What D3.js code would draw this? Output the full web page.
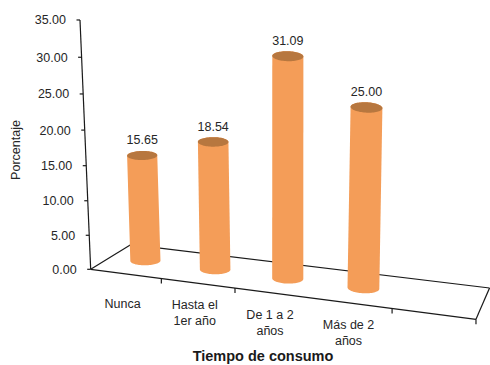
<!DOCTYPE html>
<html>
<head>
<meta charset="utf-8">
<script src="https://cdn.jsdelivr.net/npm/d3@7"></script>
<style>
  html, body { margin: 0; padding: 0; background: #fff; }
  svg { display: block; font-family: "Liberation Sans", Arial, sans-serif; }
</style>
</head>
<body>
<svg id="chart" width="490" height="365"></svg>
<script>
// ---- data ----
const categories = [["Nunca"], ["Hasta el", "1er año"], ["De 1 a 2", "años"], ["Más de 2", "años"]];
const values = [15.65, 18.54, 31.09, 25.00];
const yTicks = [0, 5, 10, 15, 20, 25, 30, 35];
const floorTicks = [1, 2, 4, 5];
const yTitle = "Porcentaje";
const xTitle = "Tiempo de consumo";

// ---- scales ----
const yScale = d3.scaleLinear().domain([0, 35]).range([0, 1]);           // height in world units
const xBand = d3.scaleBand().domain(d3.range(categories.length)).range([0, 4]);
const floorWidth = 5;      // floor runs one slot past the last category
const barDepth = 0.5;      // bars stand halfway back on the floor

// perspective camera: world (u along categories, h height, v depth) -> screen
const M = [
  [67.36, -14.854, 50.58, 90.7],
  [3.50, -250.36, -5.5, 269.3],
  [-0.02037, -0.05194, 0.0785, 1]
];
function project(u, h, v) {
  const X = M[0][0] * u + M[0][1] * h + M[0][2] * v + M[0][3];
  const Y = M[1][0] * u + M[1][1] * h + M[1][2] * v + M[1][3];
  const W = M[2][0] * u + M[2][1] * h + M[2][2] * v + M[2][3];
  return [X / W, Y / W];
}

const svg = d3.select("#chart");
const ink = "#1a1a1a";
const textCol = "#262626";

// ---- floor ----
const floor = svg.append("g").attr("stroke", ink).attr("stroke-width", 1.2).attr("fill", "none");
const edges = [
  [[0, 0, 0], [floorWidth, 0, 0]],
  [[0, 0, 1], [floorWidth, 0, 1]],
  [[0, 0, 0], [0, 0, 1]],
  [[floorWidth, 0, 0], [floorWidth, 0, 1]]
];
edges.forEach(([a, b]) => {
  const p = project(...a), q = project(...b);
  floor.append("line").attr("x1", p[0]).attr("y1", p[1]).attr("x2", q[0]).attr("y2", q[1]);
});
floorTicks.forEach(u => {
  const p = project(u, 0, 0);
  floor.append("line").attr("x1", p[0]).attr("y1", p[1]).attr("x2", p[0]).attr("y2", p[1] + 5);
});

// ---- value axis ----
const axis = svg.append("g");
const a0 = project(0, 0, 0), a1 = project(0, yScale(35), 0);
axis.append("line").attr("x1", a0[0]).attr("y1", a0[1]).attr("x2", a1[0]).attr("y2", a1[1])
  .attr("stroke", ink).attr("stroke-width", 1.2);
yTicks.forEach(t => {
  const p = project(0, yScale(t), 0);
  axis.append("line").attr("x1", p[0] - 3.5).attr("y1", p[1]).attr("x2", p[0]).attr("y2", p[1])
    .attr("stroke", ink).attr("stroke-width", 1.2);
  axis.append("text").attr("x", p[0] - 14).attr("y", p[1]).attr("dy", "0.36em")
    .attr("text-anchor", "end").attr("font-size", 12.5).attr("fill", textCol)
    .text(d3.format(".2f")(t));
});

// ---- cylinders ----
const radiusU = 0.2, radiusV = 0.2 / 1.2;
const ring = d3.range(0, 2 * Math.PI, Math.PI / 36);
const bars = svg.append("g");
values.forEach((val, i) => {
  const uc = xBand(i) + xBand.bandwidth() / 2;
  const B = project(uc, 0, barDepth);
  const T = project(uc, yScale(val), barDepth);
  const offs = ring.map(th => {
    const p = project(uc + radiusU * Math.cos(th), 0, barDepth + radiusV * Math.sin(th));
    return [p[0] - B[0], p[1] - B[1]];
  });
  const bottom = offs.map(o => [B[0] + o[0], B[1] + o[1]]);
  const top = offs.map(o => [T[0] + o[0], T[1] + o[1]]);
  const hull = d3.polygonHull(bottom.concat(top));
  bars.append("path").attr("d", "M" + hull.join("L") + "Z").attr("fill", "#F49D58");
  bars.append("path").attr("d", "M" + top.join("L") + "Z").attr("fill", "#B7773F");
  bars.append("text").attr("x", T[0]).attr("y", T[1] - 11)
    .attr("text-anchor", "middle").attr("font-size", 12.5).attr("fill", textCol)
    .text(d3.format(".2f")(val));
});

// ---- category labels ----
const lineH = 15.5;
categories.forEach((lines, i) => {
  const uc = xBand(i) + xBand.bandwidth() / 2;
  const p = project(uc, 0, 0);
  const center = p[1] + 29.5;
  const first = center - (lines.length - 1) * lineH / 2 + 4.5;
  const t = svg.append("text").attr("text-anchor", "middle").attr("font-size", 12.5).attr("fill", textCol);
  lines.forEach((s, k) => {
    t.append("tspan").attr("x", p[0] - 3).attr("y", first + k * lineH).text(s);
  });
});

// ---- titles ----
svg.append("text").attr("x", 263).attr("y", 361).attr("text-anchor", "middle")
  .attr("font-size", 14.5).attr("font-weight", "bold").attr("fill", ink).text(xTitle);
svg.append("text").attr("transform", "translate(20,150) rotate(-90)").attr("text-anchor", "middle")
  .attr("font-size", 12.5).attr("fill", textCol).text(yTitle);
</script>
</body>
</html>
